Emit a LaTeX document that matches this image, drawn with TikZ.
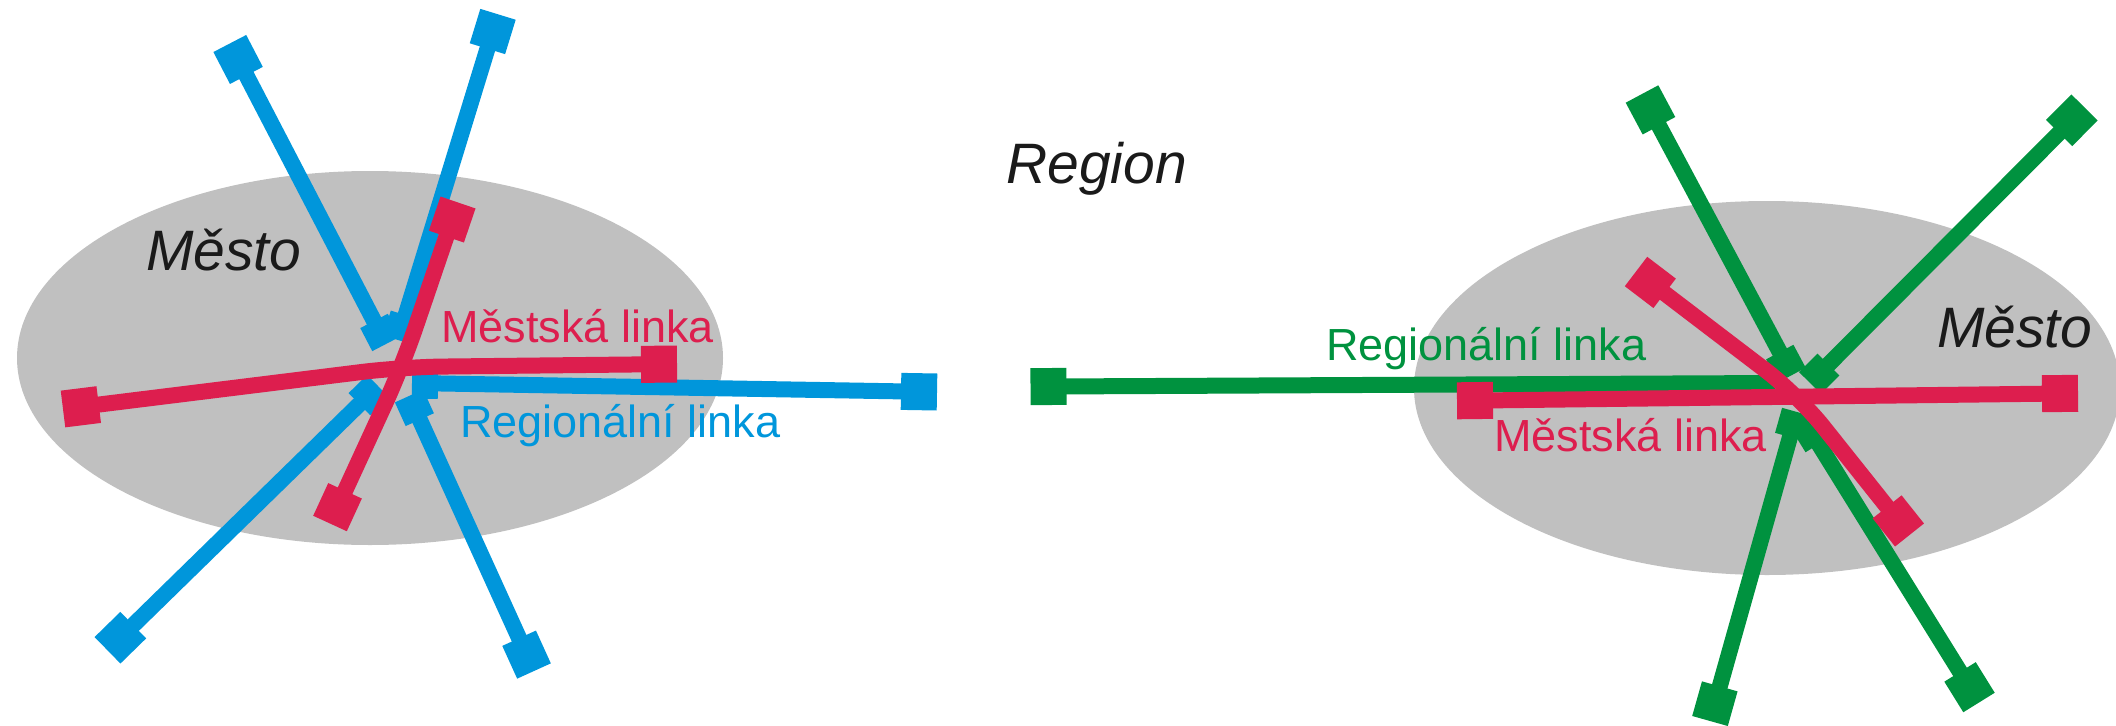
\documentclass[tikz,border=0pt]{standalone}
\usepackage{fontspec}
\setmainfont{Liberation Sans}
\usetikzlibrary{arrows.meta}
\definecolor{cgray}{RGB}{192,192,192}
\definecolor{cblue}{RGB}{0,150,219}
\definecolor{cred}{RGB}{221,30,78}
\definecolor{cgreen}{RGB}{0,146,63}
\definecolor{ctext}{RGB}{26,26,26}
\tikzset{
  route/.style={line width=16pt, line join=round},
  capline/.style={route, {Square[length=26pt,width=31pt]}-{Square[length=36pt,width=37pt]}},
  endline/.style={route, -{Square[length=36pt,width=37pt]}},
  twoend/.style={route, rounded corners=40pt, {Square[length=36pt,width=37pt]}-{Square[length=36pt,width=37pt]}},
  lbl/.style={inner sep=0pt, anchor=base west, font=\fontsize{45}{54}\selectfont},
  ital/.style={inner sep=0pt, anchor=base west, text=ctext, font=\fontsize{57}{68}\selectfont\itshape},
  town/.style={cgray}
}
\begin{document}
\begin{tikzpicture}[x=1pt,y=-1pt]
\useasboundingbox (0,0) rectangle (2116,725);
\clip (0,0) rectangle (2116,725);

% towns
\fill[town] (370,358) ellipse [x radius=353pt, y radius=187pt];
\fill[town] (1767,388) ellipse [x radius=353pt, y radius=187pt];

% ---------- left town ----------
\coordinate (jl) at (402,367);
\coordinate (bnwi) at (386,344);  \coordinate (bnwo) at (229.8,43.5);
\coordinate (bni)  at (398,340);  \coordinate (bno)  at (498,14.3);
\coordinate (bei)  at (412,383);  \coordinate (beo)  at (937,392);
\coordinate (bswi) at (378,386);  \coordinate (bswo) at (107.5,650.3);
\coordinate (bsi)  at (409,396);  \coordinate (bso)  at (534,671);
\coordinate (lrw) at (63,409);  \coordinate (lre) at (677,364);
\coordinate (lrn) at (458,202.5); \coordinate (lrs) at (330,523.5);

\draw[capline, cblue] (bnwi) -- (bnwo);
\draw[capline, cblue] (bni) -- (bno);
\draw[capline, cblue] (bei) -- (beo);
\draw[capline, cblue] (bswi) -- (bswo);
\draw[capline, cblue] (bsi) -- (bso);
\draw[twoend, cred] (lrn) -- (jl) -- (lrs);
\draw[twoend, cred] (lrw) -- (jl) -- (lre);

\node[ital] (mesto1) at (146,270) {Město};
\node[lbl, text=cred] (ml1) at (441,342) {Městská linka};
\node[lbl, text=cblue] (rl1) at (460,437) {Regionální linka};

% ---------- region ----------
\node[ital] (region) at (1006,183) {Region};

% ---------- right town ----------
\coordinate (jr) at (1798,395);
\coordinate (gwi)  at (1775,383);  \coordinate (gwo)  at (1030.5,386.6);
\coordinate (gnwi) at (1792,375);  \coordinate (gnwo) at (1642,94);
\coordinate (gnei) at (1810,383);  \coordinate (gneo) at (2084.5,107.5);
\coordinate (gswi) at (1797,412);  \coordinate (gswo) at (1710,721);
\coordinate (gsei) at (1805,422);  \coordinate (gseo) at (1979,702.5);
\coordinate (rrw) at (1457,400.8); \coordinate (rre) at (2078,393.3);
\coordinate (rrnw) at (1636,271.5);  \coordinate (rrse) at (1909.5,535);

\draw[endline, cgreen] (gwi) -- (gwo);
\draw[capline, cgreen] (gnwi) -- (gnwo);
\draw[capline, cgreen] (gnei) -- (gneo);
\draw[capline, cgreen] (gswi) -- (gswo);
\draw[capline, cgreen] (gsei) -- (gseo);
\draw[twoend, cred] (rrw) -- (rre);
\draw[twoend, cred] (rrnw) -- (jr) -- (rrse);

\node[ital] (mesto2) at (1937,347) {Město};
\node[lbl, text=cgreen] (rl2) at (1326,360) {Regionální linka};
\node[lbl, text=cred] (ml2) at (1494,451) {Městská linka};
\end{tikzpicture}
\end{document}
